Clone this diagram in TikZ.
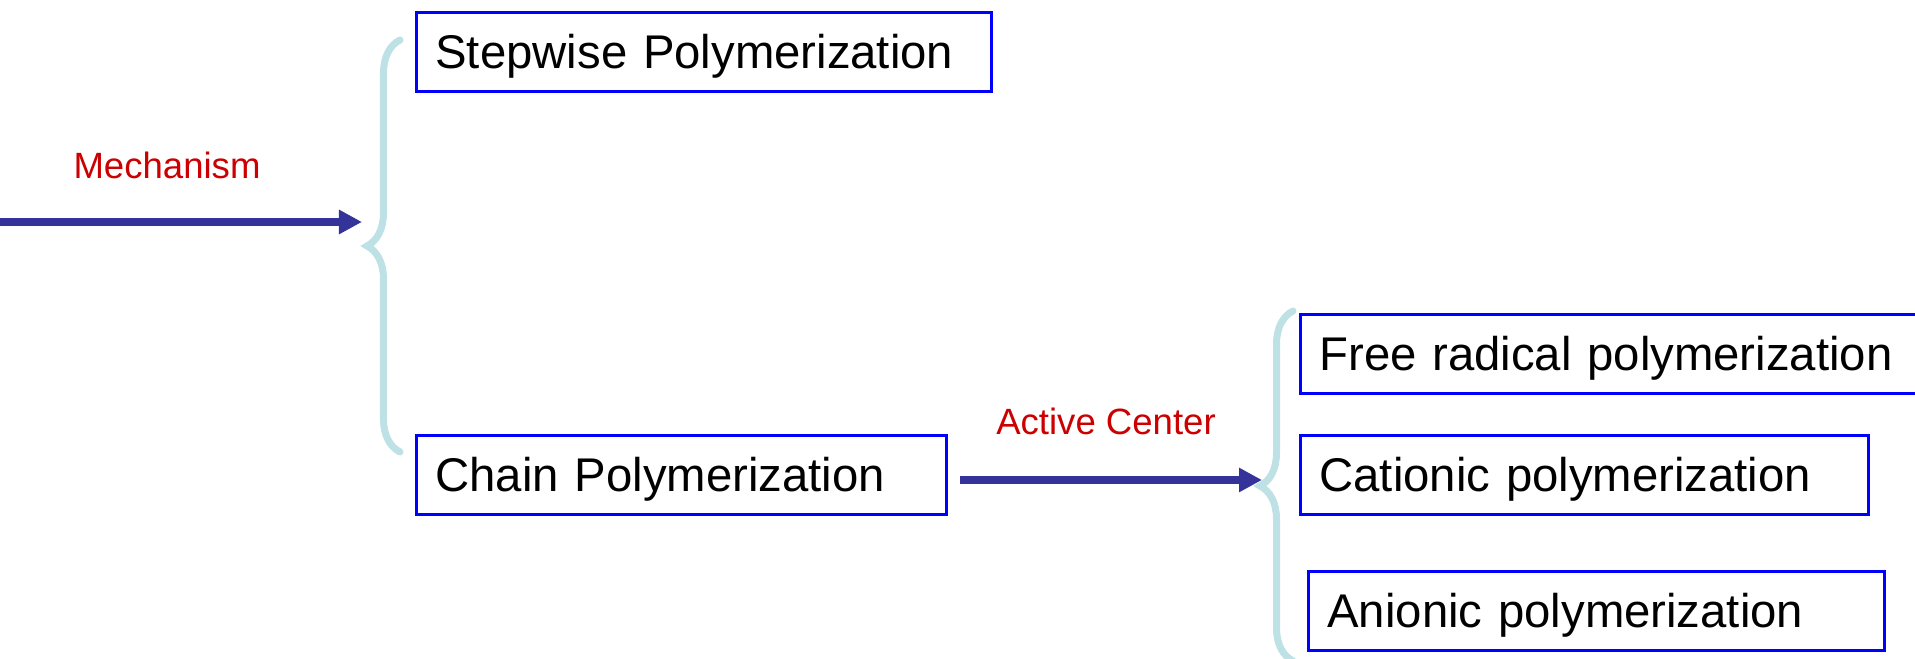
\documentclass[tikz,border=0pt]{standalone}
\usepackage{fontspec}
\setmainfont{Liberation Sans}
\usetikzlibrary{arrows.meta,decorations.pathreplacing}
\definecolor{arrowblue}{RGB}{51,51,153}
\definecolor{bracecyan}{RGB}{189,225,228}
\definecolor{labelred}{RGB}{204,0,0}

\begin{document}
\begin{tikzpicture}[x=0.01cm, y=-0.01cm,
	classbox/.style={draw=blue, line width=0.8pt, anchor=north west, align=left, inner xsep=0.19cm, inner ysep=0pt, minimum height=0.79cm, text height=0.43cm, text depth=0.10cm, font=\fontsize{13.45}{16}\selectfont},
	redtext/.style={color=labelred, font=\fontsize{10.4}{12}\selectfont},
	flow/.style={-{Triangle[length=0.23cm,width=0.23cm]}, color=arrowblue, line width=0.08cm},
	curly/.style={decorate, decoration={brace, amplitude=0.33cm}, color=bracecyan, line width=0.07cm, line cap=round}]
		\useasboundingbox (0,0) rectangle (1915,659);
		\clip (0,0) rectangle (1915,659);
		
		\node[classbox, text width=5.37cm] (stepwise) at (415,11) {Stepwise Polymerization};
		\node[classbox, text width=4.92cm] (chain) at (415,434) {Chain Polymerization};
		\node[classbox, text width=6.40cm] (freerad) at (1299,313) {Free radical polymerization};
		\node[classbox, text width=5.30cm] (cationic) at (1299,434) {Cationic polymerization};
		\node[classbox, text width=5.38cm] (anionic) at (1307,570) {Anionic polymerization};
		
		\node[redtext] (mech) at (167,165) {Mechanism};
		\node[redtext] (active) at (1106,421) {Active Center};
		
		\coordinate (mechfrom) at (0,222);
		\coordinate (mechtip) at (362,222);
		\coordinate (actfrom) at (960,480);
		\coordinate (acttip) at (1262,480);
		\coordinate (mechtop) at (400,40);
		\coordinate (mechbot) at (400,452);
		\coordinate (acttop) at (1293,311);
		\coordinate (actbot) at (1293,661);
		
		\draw[curly] (mechbot) -- (mechtop);
		\draw[curly] (actbot) -- (acttop);
		\draw[flow] (mechfrom) -- (mechtip);
		\draw[flow] (actfrom) -- (acttip);
\end{tikzpicture}
\end{document}
